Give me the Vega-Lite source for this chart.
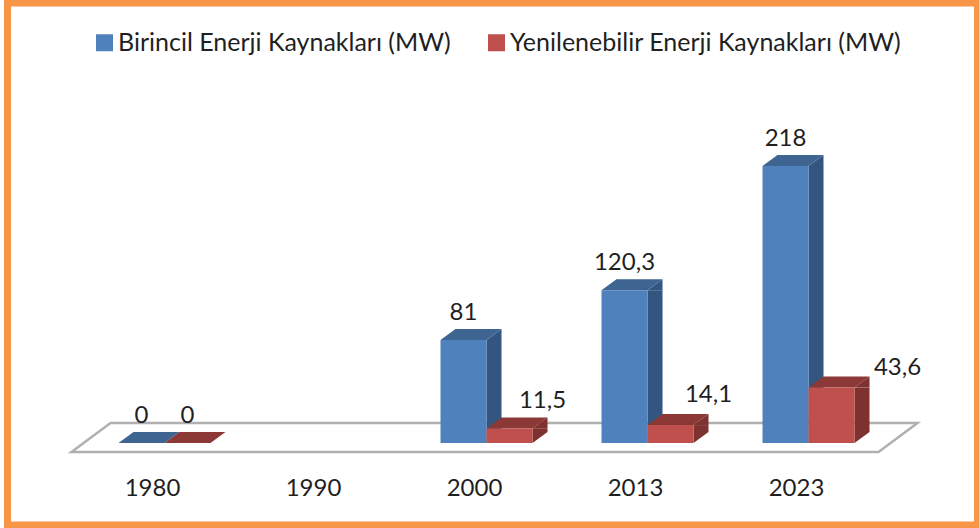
{"$schema":"https://vega.github.io/schema/vega-lite/v6.json","width":979,"height":528,"padding":0,"autosize":{"type":"none"},"background":"white","config":{"view":{"stroke":null},"font":"Lato"},
"data":{"values":[
{"year":"1980","series":"Birincil Enerji Kaynakları (MW)","value":0,"label":"0"},
{"year":"1980","series":"Yenilenebilir Enerji Kaynakları (MW)","value":0,"label":"0"},
{"year":"2000","series":"Birincil Enerji Kaynakları (MW)","value":81,"label":"81"},
{"year":"2000","series":"Yenilenebilir Enerji Kaynakları (MW)","value":11.5,"label":"11,5"},
{"year":"2013","series":"Birincil Enerji Kaynakları (MW)","value":120.3,"label":"120,3"},
{"year":"2013","series":"Yenilenebilir Enerji Kaynakları (MW)","value":14.1,"label":"14,1"},
{"year":"2023","series":"Birincil Enerji Kaynakları (MW)","value":218,"label":"218"},
{"year":"2023","series":"Yenilenebilir Enerji Kaynakları (MW)","value":43.6,"label":"43,6"}]},
"encoding":{"x":{"field":"year","type":"nominal","scale":{"type":"band","domain":["1980","1990","2000","2013","2023"],"range":[84,889],"paddingInner":0,"paddingOuter":0},"axis":{"title":null,"domain":false,"ticks":false,"labelAngle":0,"labelOffset":-12,"labelPadding":0,"offset":-52,"labelFontSize":24,"labelFont":"Lato","labelColor":"#1f1f1f","grid":false}},
"y":{"field":"value","type":"quantitative","stack":null,"scale":{"domain":[0,218],"range":[443,166],"nice":false,"zero":true},"axis":null}},
"layer":[
{"data":{"values":[{"year":"2000","value":0,"part":"frame"}]},"mark":{"type":"point","filled":false,"opacity":1,"size":4,"shape":"M-479 -440 L491 -440 L491 82 L-479 82 Z","stroke":"#F79646","strokeWidth":7}},
{"data":{"values":[{"year":"2000","value":0,"part":"floor"}]},"mark":{"type":"point","filled":true,"opacity":1,"size":4,"shape":"M-415 9 L392 9 L431 -20 L-376 -20 Z","fill":"white","stroke":"#B0B0B0","strokeWidth":2.5}},

{"transform":[{"filter":"datum.value>0 && datum.series[0]=='B'"}],"mark":{"type":"bar","width":15,"xOffset":7.5,"color":"#335680"},"encoding":{"y2":{"datum":0}}},
{"transform":[{"filter":"datum.value>0 && datum.series[0]=='B'"}],"mark":{"type":"point","filled":true,"opacity":1,"size":4,"shape":"M0 0 L15 0 L15 -11 Z","fill":"#335680"}},
{"transform":[{"filter":"datum.series[0]=='B'"}],"mark":{"type":"point","filled":true,"opacity":1,"size":4,"shape":"M-46 0 L0 0 L15 -11 L-31 -11 Z","fill":"#3E6491"}},

{"transform":[{"filter":"datum.series[0]=='B'"}],"mark":{"type":"bar","width":46,"xOffset":-23},"encoding":{"color":{"field":"series","type":"nominal","scale":{"domain":["Birincil Enerji Kaynakları (MW)","Yenilenebilir Enerji Kaynakları (MW)"],"range":["#4F81BD","#C0504D"]},"legend":{"title":null,"orient":"none","legendX":92,"legendY":30,"direction":"horizontal","columns":2,"padding":0,"symbolType":"square","symbolSize":289,"symbolStrokeWidth":0,"symbolOpacity":1,"labelFontSize":25,"labelFont":"Lato","labelColor":"#1f1f1f","labelOffset":1,"columnPadding":33,"labelLimit":500}}}},

{"transform":[{"filter":"datum.value>0 && datum.series[0]=='Y'"}],"mark":{"type":"bar","width":15,"xOffset":53.5,"y2Offset":-11,"color":"#7E3230"},"encoding":{"y2":{"datum":0}}},
{"transform":[{"filter":"datum.value>0 && datum.series[0]=='Y'"}],"mark":{"type":"point","filled":true,"opacity":1,"size":4,"shape":"M46 0 L61 0 L61 -11 Z","fill":"#7E3230"}},
{"transform":[{"filter":"datum.value>0 && datum.series[0]=='Y'"}],"encoding":{"y":{"datum":0,"type":"quantitative"}},"mark":{"type":"point","filled":true,"opacity":1,"size":4,"shape":"M46 0 L61 -11 L46 -11 Z","fill":"#7E3230"}},
{"transform":[{"filter":"datum.series[0]=='Y'"}],"mark":{"type":"point","filled":true,"opacity":1,"size":4,"shape":"M0 0 L46 0 L61 -11 L15 -11 Z","fill":"#8C3836"}},
{"transform":[{"filter":"datum.series[0]=='Y'"}],"mark":{"type":"bar","width":46,"xOffset":23},"encoding":{"color":{"field":"series","type":"nominal"}}},

{"transform":[{"filter":"datum.series[0]=='B'"}],"mark":{"type":"text","dx":-23,"dy":-27,"fontSize":24,"font":"Lato","color":"#1f1f1f"},"encoding":{"text":{"field":"label"}}},
{"transform":[{"filter":"datum.series[0]=='Y' && datum.value==0"}],"mark":{"type":"text","dx":23,"dy":-27,"fontSize":24,"font":"Lato","color":"#1f1f1f"},"encoding":{"text":{"field":"label"}}},
{"transform":[{"filter":"datum.label=='11,5'"}],"mark":{"type":"text","dx":56,"dy":-27,"fontSize":24,"font":"Lato","color":"#1f1f1f"},"encoding":{"text":{"field":"label"}}},
{"transform":[{"filter":"datum.label=='14,1'"}],"mark":{"type":"text","dx":61,"dy":-30,"fontSize":24,"font":"Lato","color":"#1f1f1f"},"encoding":{"text":{"field":"label"}}},
{"transform":[{"filter":"datum.label=='43,6'"}],"mark":{"type":"text","dx":89,"dy":-20,"fontSize":24,"font":"Lato","color":"#1f1f1f"},"encoding":{"text":{"field":"label"}}}
]}
